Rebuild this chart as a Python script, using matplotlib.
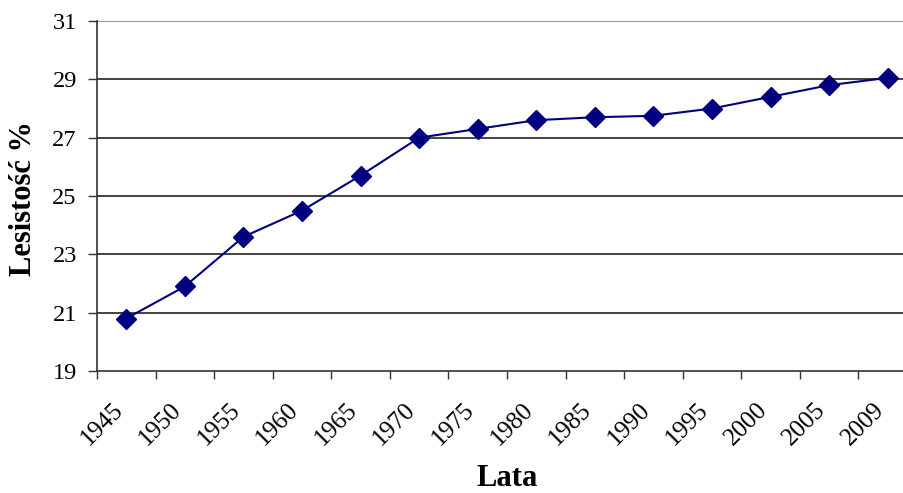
import numpy as np
import matplotlib
matplotlib.use("Agg")
import matplotlib.pyplot as plt

years = ["1945", "1950", "1955", "1960", "1965", "1970", "1975",
         "1980", "1985", "1990", "1995", "2000", "2005", "2009"]
forest = [20.8, 21.9, 23.6, 24.5, 25.7, 27.0, 27.3,
          27.6, 27.7, 27.75, 28.0, 28.4, 28.8, 29.05]
yticks = [19, 21, 23, 25, 27, 29, 31]

plt.rcParams["font.family"] = ["Liberation Serif", "DejaVu Serif"]

fig = plt.figure(figsize=(9.04, 4.93), dpi=100)
# plot area runs past the right edge of the picture, as in the original
ax = fig.add_axes([97 / 904, 122 / 493, 820 / 904, 350 / 493])

x = np.arange(len(years))
ax.plot(x, forest, color="#000080", lw=1.5, marker="D", markersize=10,
        markerfacecolor="#000080", markeredgecolor="#000080", zorder=3)

ax.set_xlim(-0.5, len(years) - 0.5)
ax.set_ylim(19, 31)
ax.set_yticks(yticks)
ax.set_yticklabels([str(v) for v in yticks], fontsize=17.5)

# labels sit a bit left of the category centre
ax.set_xticks(x - 0.25)
ax.set_xticklabels(years, fontsize=18, rotation=45, ha="right", va="top",
                   rotation_mode="anchor")
ax.tick_params(axis="x", which="major", length=0, pad=20)
ax.set_xticks(np.arange(-0.5, len(years) - 0.5, 1.0), minor=True)
ax.tick_params(axis="x", which="minor", length=6, width=1, direction="out",
               color="#333333")
ax.tick_params(axis="y", length=6.5, width=1, direction="out", color="#333333",
               pad=8)

for v in yticks[1:]:
    ax.axhline(v, color="#808080" if v == 31 else "#222222", lw=1.2, zorder=1)

for s in ["top", "right"]:
    ax.spines[s].set_visible(False)
ax.spines["left"].set_color("#333333")
ax.spines["bottom"].set_color("#333333")
ax.spines["left"].set_linewidth(1.2)
ax.spines["bottom"].set_linewidth(1.2)

fig.text(24 / 904, 1 - 198 / 493, "Lesistość %", rotation=90, fontsize=22,
         fontweight="bold", ha="center", va="center")
fig.text(507 / 904, 1 - 486 / 493, "Lata", fontsize=22, fontweight="bold",
         ha="center", va="baseline")

fig.savefig("out.png", dpi=100)
